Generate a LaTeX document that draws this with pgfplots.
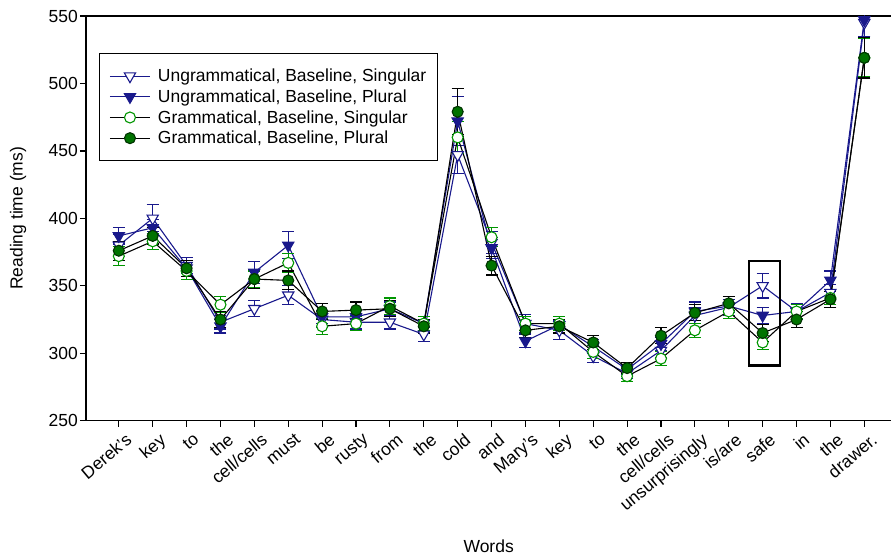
\documentclass[border=0pt]{standalone}
\usepackage{fontspec}
\setmainfont{Liberation Sans}
\usepackage{pgfplots}
\usepackage{pgfplotstable}
\pgfplotsset{compat=1.18}
\definecolor{ublue}{RGB}{25,25,140}
\definecolor{ggreen}{RGB}{0,150,0}
\definecolor{gfill}{RGB}{0,115,0}

% x  y  err
\pgfplotstableread{
x y e
0 380 8
1 400 10
2 365 6
3 323 5
4 333 6
5 343 7
6 325 6
7 323 5
8 323 5
9 314 5
10 447 14
11 382 8
12 322 7
13 317 7
14 298 5
15 285 4
16 302 5
17 328 6
18 334 6
19 350 9
20 331 6
21 345 6
22 545 10
}\ungsing
\pgfplotstableread{
x y e
0 387 6
1 393 6
2 363 6
3 320 5
4 360 8
5 380 10
6 327 5
7 327 5
8 333 5
9 322 5
10 472 18
11 378 8
12 309 5
13 321 6
14 305 5
15 288 4
16 307 5
17 331 7
18 335 5
19 328 6
20 331 5
21 354 7
22 547 12
}\ungplur
\pgfplotstableread{
x y e
0 372 7
1 383 6
2 361 6
3 336 6
4 355 6
5 367 7
6 320 6
7 322 5
8 335 6
9 322 5
10 460 12
11 386 7
12 322 5
13 322 5
14 301 5
15 283 4
16 296 5
17 317 5
18 331 5
19 308 5
20 331 5
21 341 5
22 519 14
}\gramsing
\pgfplotstableread{
x y e
0 376 7
1 387 6
2 363 6
3 325 6
4 355 7
5 354 7
6 331 6
7 332 6
8 333 6
9 320 5
10 479 17
11 365 7
12 317 5
13 320 5
14 308 5
15 289 4
16 313 6
17 330 6
18 337 5
19 315 6
20 325 6
21 340 6
22 519 15
}\gramplur

\begin{document}
\begin{tikzpicture}
\begin{axis}[name=ax,
  width=806pt, height=405pt, scale only axis,
  xmin=-0.97, xmax=22.8, ymin=250, ymax=550,
  axis x line*=box, axis y line*=left,
  axis line style={line width=1.2pt, black},
  xtick={0,...,22},
  xticklabels={Derek's,key,to,the,cell/cells,must,be,rusty,from,the,cold,and,Mary's,key,to,the,cell/cells,unsurprisingly,is/are,safe,in,the,drawer.},
  ytick={250,300,...,550},
  xtick pos=bottom, ytick pos=left,
  tick align=outside, major tick length=6pt,
  tick style={black, line width=1.2pt},
  /pgf/number format/assume math mode=true,
  ticklabel style={font=\fontsize{17.5}{20}\selectfont},
  xticklabel style={rotate=40, anchor=north east, inner sep=1pt, yshift=-7pt, xshift=2pt},
  yticklabel style={inner sep=2pt},
  every axis x label/.style={at={(axis description cs:0.5,0)}, anchor=center, yshift=-126pt, font=\fontsize{17.5}{20}\selectfont},
  every axis y label/.style={at={(axis description cs:0,0.5)}, anchor=center, xshift=-68pt, rotate=90, font=\fontsize{17.5}{20}\selectfont},
  xlabel={Words},
  ylabel={Reading time (ms)},
  legend cell align=left,
  legend style={at={(axis description cs:0.016,0.9086)}, anchor=north west,
    draw=black, line width=1.2pt, font=\fontsize{17.5}{20}\selectfont,
    inner xsep=10pt, inner ysep=14pt, row sep=3.5pt,
    nodes={inner sep=1.5pt},
    /tikz/every odd column/.append style={column sep=6pt}},
  legend image code/.code={%
    \draw[#1, mark repeat=2, mark phase=2] plot coordinates {(0pt,0pt) (20pt,0pt) (40pt,0pt)};},
]
\addplot[ublue, line width=1.1pt, mark=triangle*, mark size=6.5pt,
  mark options={fill=white, draw=ublue, rotate=180, line width=1.1pt},
  error bars/.cd, y dir=both, y explicit,
  error bar style={ublue, line width=1.1pt},
  error mark options={ublue, mark size=6pt, line width=1.1pt, rotate=90}]
  table[x=x, y=y, y error=e] {\ungsing};
\addlegendentry{Ungrammatical, Baseline, Singular}
\addplot[ublue, line width=1.1pt, mark=triangle*, mark size=6.5pt,
  mark options={fill=ublue, draw=ublue, rotate=180, line width=1.1pt},
  error bars/.cd, y dir=both, y explicit,
  error bar style={ublue, line width=1.1pt},
  error mark options={ublue, mark size=6pt, line width=1.1pt, rotate=90}]
  table[x=x, y=y, y error=e] {\ungplur};
\addlegendentry{Ungrammatical, Baseline, Plural}
\addplot[black, line width=1.1pt, mark=*, mark size=5.5pt,
  mark options={fill=white, draw=ggreen, line width=1.1pt},
  error bars/.cd, y dir=both, y explicit,
  error bar style={ggreen, line width=1.1pt},
  error mark options={ggreen, mark size=6pt, line width=1.1pt, rotate=90}]
  table[x=x, y=y, y error=e] {\gramsing};
\addlegendentry{Grammatical, Baseline, Singular}
\addplot[black, line width=1.1pt, mark=*, mark size=5.5pt,
  mark options={fill=gfill, draw=black!80!green, line width=1.1pt},
  error bars/.cd, y dir=both, y explicit,
  error bar style={black, line width=1.1pt},
  error mark options={black, mark size=6pt, line width=1.1pt, rotate=90}]
  table[x=x, y=y, y error=e] {\gramplur};
\addlegendentry{Grammatical, Baseline, Plural}
\draw[line width=2.2pt, black] (axis cs:18.6,291) rectangle (axis cs:19.52,368.5);
\end{axis}
\path ([shift={(-86pt,-136pt)}]ax.south west) rectangle ([shift={(0pt,16pt)}]ax.north east);
\end{tikzpicture}
\end{document}
